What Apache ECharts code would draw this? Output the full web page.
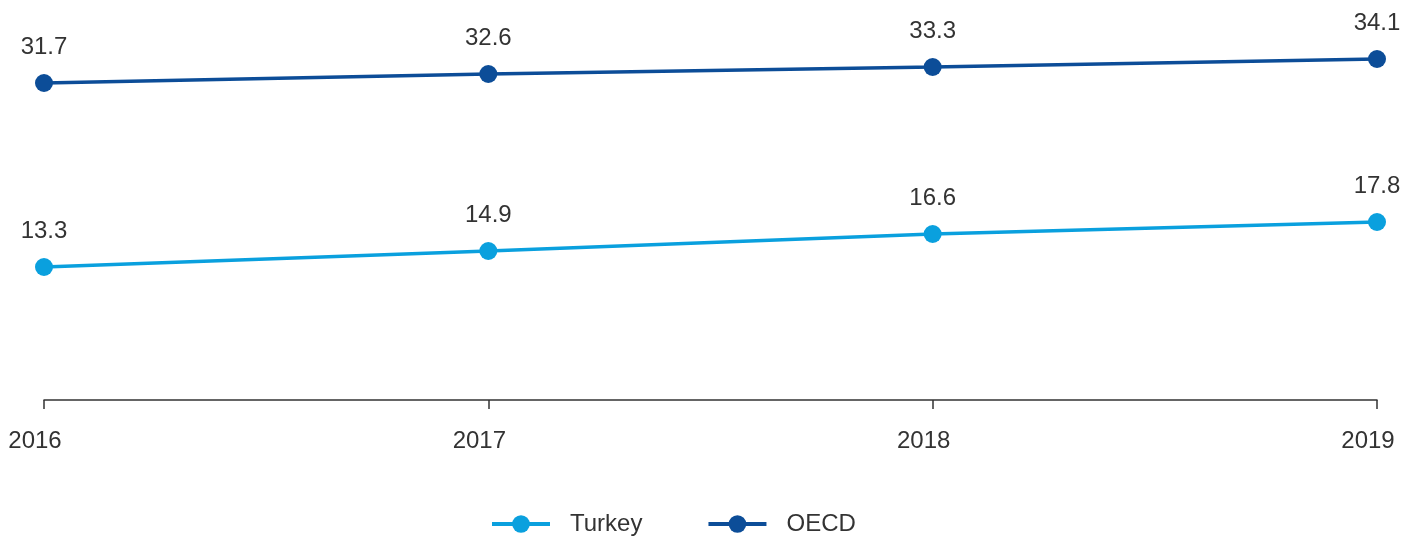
<!DOCTYPE html>
<html>
<head>
<meta charset="utf-8">
<script src="https://cdn.jsdelivr.net/npm/echarts@6/dist/echarts.min.js"></script>
<style>
html,body{margin:0;padding:0;background:#fff;}
#chart{width:1424px;height:540px;}
</style>
</head>
<body>
<div id="chart"></div>
<script>
const categories = ['2016', '2017', '2018', '2019'];
const turkey = [13.3, 14.9, 16.6, 17.8];
const oecd = [31.7, 32.6, 33.3, 34.1];
const seriesNames = ['Turkey', 'OECD'];

const FONT = '"Liberation Sans", Arial, sans-serif';
const chart = echarts.init(document.getElementById('chart'));
const labelCfg = {
  show: true, position: 'top', distance: 15,
  color: '#333', fontSize: 24, fontFamily: FONT
};
chart.setOption({
  animation: false,
  textStyle: { fontFamily: FONT },
  grid: { left: 44, right: 47, top: 0, bottom: 140, containLabel: false },
  legend: {
    bottom: -1, left: 485,
    itemWidth: 58, itemHeight: 22, itemGap: 64,
    lineStyle: { width: 4 },
    textStyle: { fontSize: 24, color: '#333', fontFamily: FONT, padding: [0, 0, 0, 15] },
    data: seriesNames
  },
  xAxis: {
    type: 'category', data: categories, boundaryGap: false,
    axisLine: { lineStyle: { color: '#333', width: 1.5 } },
    axisTick: { show: true, alignWithLabel: true, length: 9, lineStyle: { color: '#333', width: 1.5 } },
    axisLabel: { color: '#333', fontSize: 24, fontFamily: FONT, margin: 29, padding: [0, 18, 0, 0] }
  },
  yAxis: {
    type: 'value', min: 0, max: 40, show: false,
    splitLine: { show: false }
  },
  series: [
    {
      name: seriesNames[0], type: 'line', data: turkey,
      symbol: 'circle', symbolSize: 18,
      lineStyle: { color: '#0aa0de', width: 3.5 },
      itemStyle: { color: '#0aa0de' },
      label: labelCfg
    },
    {
      name: seriesNames[1], type: 'line', data: oecd,
      symbol: 'circle', symbolSize: 18,
      lineStyle: { color: '#0c4d98', width: 3.5 },
      itemStyle: { color: '#0c4d98' },
      label: labelCfg
    }
  ]
});
</script>
</body>
</html>
